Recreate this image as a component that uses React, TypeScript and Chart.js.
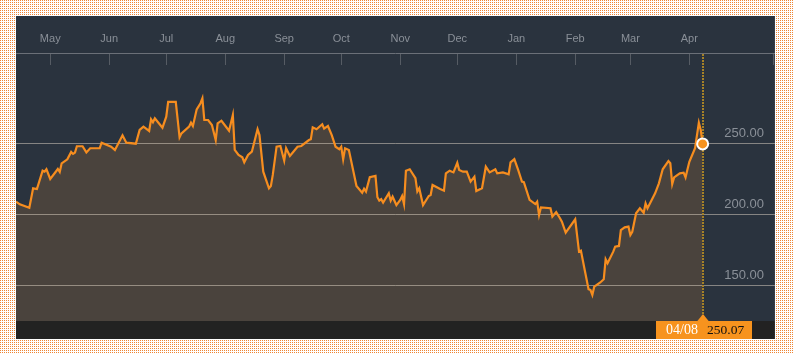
import React, { useEffect, useRef } from 'react';
import { Chart, registerables } from 'chart.js';

Chart.register(...registerables);

// ---- data ----
const startDate = '2015-04-13';
const endDate = '2016-05-16';
const monthTickDates = [
  '2015-05-01', '2015-06-01', '2015-07-01', '2015-08-01', '2015-09-01', '2015-10-01',
  '2015-11-01', '2015-12-01', '2016-01-01', '2016-02-01', '2016-03-01', '2016-04-01',
];
const monthLabels = ['May', 'Jun', 'Jul', 'Aug', 'Sep', 'Oct', 'Nov', 'Dec', 'Jan', 'Feb', 'Mar', 'Apr'];
const yTicks = [150, 200, 250];
const yMin = 125.35;
const yMax = 314.08;

// days since startDate
const dayOffsets = [
  0, 2, 7, 9, 11, 14, 15, 16, 18, 22, 23, 24, 27, 29, 30, 31, 32, 35, 37, 39,
  44, 45, 50, 52, 56, 58, 63, 65, 67, 70, 71, 72, 73, 77, 79, 80, 84, 86, 87, 91,
  92, 93, 95, 97, 98, 99, 101, 103, 105, 106, 108, 112, 114, 115, 117, 119, 120, 122, 124, 127,
  128, 130, 133, 134, 135, 137, 139, 141, 142, 144, 148, 150, 154, 155, 156, 158, 161, 162, 164, 166,
  168, 170, 171, 172, 173, 175, 179, 182, 183, 184, 186, 189, 190, 191, 192, 193, 196, 197, 198, 200,
  202, 203, 204, 205, 207, 210, 211, 212, 214, 217, 218, 219, 223, 225, 226, 228, 230, 232, 233, 235,
  237, 239, 241, 242, 245, 247, 249, 252, 253, 256, 259, 260, 262, 264, 266, 267, 270, 273, 274, 275,
  276, 281, 282, 284, 286, 287, 289, 294, 296, 297, 299, 301, 302, 303, 304, 307, 309, 310, 311, 314,
  315, 317, 318, 320, 322, 323, 324, 326, 328, 330, 331, 332, 336, 338, 340, 343, 344, 345, 346, 349,
  351, 352, 354, 357, 359, 360, 361,
];
const prices = [
  209.4, 207.5, 205.1, 218.8, 218.3, 231.2, 230.5, 232.2, 225.4, 232.4, 230.3, 236.4, 239.2, 244.4, 243, 243.9, 248.4, 248.4, 244.1, 247,
  247, 250.9, 248.1, 245.8, 256.1, 250.9, 250.2, 259.9, 262.2, 259.2, 267.4, 265.3, 268.1, 261.5, 269.2, 279.6, 279.6, 254.7, 257.5, 262.2,
  265, 262.7, 274.4, 278.7, 282.2, 266.9, 266.9, 263.4, 252.8, 264.6, 266.4, 259.4, 270.4, 245.8, 242.3, 240.6, 237.1, 242.3, 244.6, 260.4,
  256.3, 230.5, 218.8, 220.4, 228.2, 248.1, 248.6, 238.3, 247, 241.5, 248.1, 248.6, 252.8, 253.3, 261.7, 260.4, 263.9, 260.8, 262.7, 256.3,
  248.1, 246.3, 248.1, 239.2, 247, 245.8, 220.4, 215.7, 218.5, 216.5, 226.6, 227.5, 212.5, 210.1, 211.1, 208.7, 215.3, 210.1, 212.9, 207,
  210.6, 213.4, 207.7, 231.2, 232.2, 225.9, 216.5, 218.8, 207, 213.4, 214.1, 221.1, 218.3, 217.1, 229.3, 231.2, 230, 236.8, 231.7, 230.5,
  230.5, 223.5, 227, 216.9, 218.8, 234, 230, 232.2, 229.3, 230, 228.6, 237.1, 239.4, 231.7, 223.5, 223.1, 210.6, 207.7, 209.4, 200,
  205.4, 204.8, 198.9, 202, 197.7, 195.3, 187.6, 197, 174.2, 174.9, 161.3, 147.7, 147.2, 143.7, 149.5, 152.3, 154.7, 168.8, 166, 174.2,
  177.7, 178.2, 189.4, 191.3, 191.8, 185.9, 188.2, 201.2, 204.7, 201.6, 208.2, 204.7, 215.3, 222.3, 232.2, 238, 236.4, 221.8, 226.5, 229.3,
  229.8, 226.5, 237.5, 247, 265, 259.9, 250.07,
];
const lastDateLabel = '04/08';

const DAY = 86400000;
const dayOf = (s: string) => (Date.parse(s) - Date.parse(startDate)) / DAY;

const App = () => {
  const ref = useRef<HTMLCanvasElement>(null);

  useEffect(() => {
    const canvas = ref.current;
    if (!canvas) return;
    const monthOffsets = monthTickDates.map(dayOf);
    const xMax = dayOf(endDate);
    const points = dayOffsets.map((d, i) => ({ x: d, y: prices[i] }));
    const lastIdx = points.length - 1;

    const overlay = {
      id: 'overlay',
      beforeDatasetsDraw(chart: any) {
        const { ctx, chartArea, scales } = chart;
        const x = Math.round(scales.x.getPixelForValue(points[lastIdx].x));
        ctx.save();
        ctx.strokeStyle = '#a58127';
        ctx.lineWidth = 2;
        ctx.setLineDash([2, 1]);
        ctx.beginPath();
        ctx.moveTo(x, chartArea.top + 1);
        ctx.lineTo(x, chartArea.bottom);
        ctx.stroke();
        ctx.restore();
      },
      afterDraw(chart: any) {
        const { ctx, chartArea, scales, width, height } = chart;
        // dotted frame outside the panel
        const tile = document.createElement('canvas');
        tile.width = 2;
        tile.height = 2;
        const tctx = tile.getContext('2d')!;
        tctx.fillStyle = '#ffffff';
        tctx.fillRect(0, 0, 2, 2);
        tctx.fillStyle = '#ee8636';
        tctx.fillRect(0, 0, 1, 1);
        const pat = ctx.createPattern(tile, 'repeat');
        ctx.save();
        ctx.fillStyle = pat;
        const L = chartArea.left, R = chartArea.right, T = 16, B = 339;
        ctx.fillRect(0, 0, width, T);
        ctx.fillRect(0, B, width, height - B);
        ctx.fillRect(0, T, L, B - T);
        ctx.fillRect(R, T, width - R, B - T);
        ctx.restore();

        const cx = Math.round(scales.x.getPixelForValue(points[lastIdx].x));
        const top = chartArea.bottom;
        ctx.save();
        ctx.fillStyle = '#f7931e';
        ctx.fillRect(cx - 47, top, 96, 18);
        ctx.beginPath();
        ctx.moveTo(cx - 6, top + 0.5);
        ctx.lineTo(cx, top - 7);
        ctx.lineTo(cx + 6, top + 0.5);
        ctx.closePath();
        ctx.fill();
        ctx.textBaseline = 'middle';
        ctx.textAlign = 'left';
        ctx.font = '14px "Liberation Serif", "Times New Roman", serif';
        ctx.fillStyle = '#ffffff';
        ctx.fillText(lastDateLabel, cx - 37, top + 9.5);
        ctx.font = '13.5px "Liberation Serif", "Times New Roman", serif';
        ctx.fillStyle = '#111111';
        ctx.fillText(prices[lastIdx].toFixed(2), cx + 4, top + 9.5);
        ctx.restore();
      },
    };

    const chart = new Chart(canvas, {
      type: 'line',
      data: {
        datasets: [
          {
            data: points,
            borderColor: '#f68d1f',
            borderWidth: 2.2,
            backgroundColor: '#4a433d',
            fill: 'start',
            tension: 0,
            pointRadius: (c: any) => (c.dataIndex === lastIdx ? 5.5 : 0),
            pointHoverRadius: 0,
            pointBackgroundColor: '#f7931e',
            pointBorderColor: '#ffffff',
            pointBorderWidth: 2,
          },
        ],
      },
      options: {
        responsive: false,
        animation: false,
        devicePixelRatio: 1,
        events: [],
        layout: { padding: { left: 16, top: 16, right: 17, bottom: 32 } },
        plugins: {
          legend: { display: false },
          tooltip: { enabled: false },
          filler: { drawTime: 'beforeDraw' },
        },
        scales: {
          x: {
            type: 'linear',
            position: 'top',
            min: 0,
            max: xMax,
            afterBuildTicks: (s: any) => {
              s.ticks = [...monthOffsets.map((v) => ({ value: v })), { value: xMax - 0.5 }];
            },
            afterFit: (s: any) => {
              s.height = 37;
            },
            ticks: {
              autoSkip: false,
              maxRotation: 0,
              padding: 19,
              color: '#8a9098',
              font: { family: '"Liberation Sans", Arial, sans-serif', size: 11 },
              callback: (v: any) => {
                const i = monthOffsets.indexOf(Number(v));
                return i >= 0 ? monthLabels[i] : '';
              },
            },
            grid: { drawOnChartArea: false, drawTicks: true, tickLength: -12, color: '#565c64' },
            border: { display: true, color: '#6b7078', width: 1 },
          },
          y: {
            position: 'right',
            min: yMin,
            max: yMax,
            afterBuildTicks: (s: any) => {
              s.ticks = yTicks.map((v) => ({ value: v }));
            },
            afterFit: (s: any) => {
              s.width = 0;
            },
            ticks: {
              mirror: true,
              padding: -11,
              labelOffset: -11,
              color: '#8a9098',
              font: { family: '"Liberation Sans", Arial, sans-serif', size: 13 },
              callback: (v: any) => Number(v).toFixed(2),
            },
            grid: { color: 'rgba(225,215,200,0.5)', drawTicks: false, lineWidth: 1 },
            border: { display: false },
          },
        },
      } as any,
      plugins: [overlay],
    });
    return () => chart.destroy();
  }, []);

  return (
    <div style={{ position: 'absolute', left: 0, top: 0, width: 793, height: 353, background: '#ffffff' }}>
      <div style={{ position: 'absolute', left: 16, top: 16, width: 760, height: 323, background: '#2a333e' }} />
      <div style={{ position: 'absolute', left: 16, top: 321, width: 760, height: 18, background: '#222222' }} />
      <canvas ref={ref} width={793} height={353} style={{ position: 'absolute', left: 0, top: 0, display: 'block' }} />
    </div>
  );
};

export default App;
